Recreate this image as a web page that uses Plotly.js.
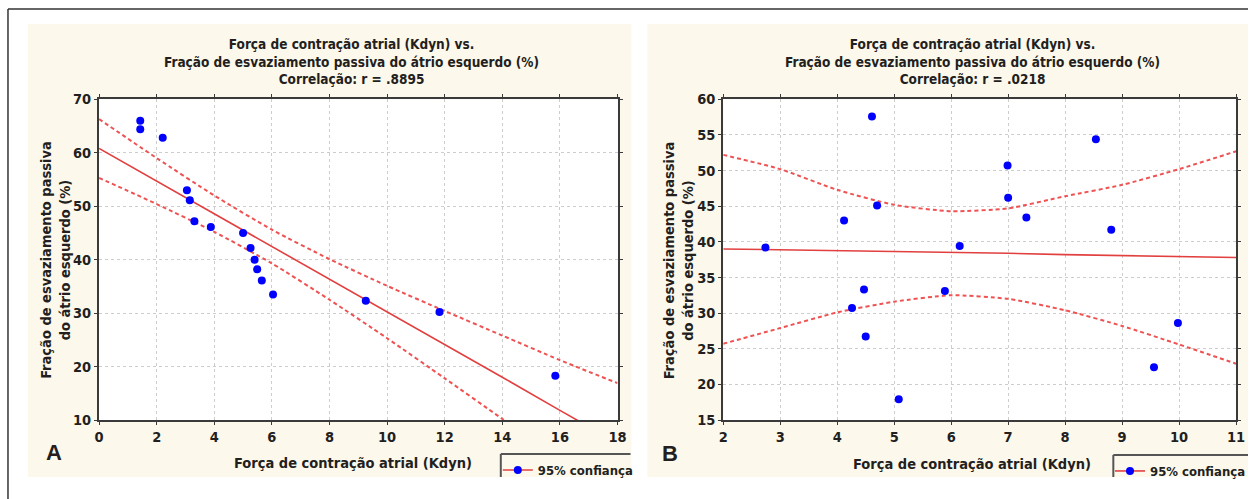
<!DOCTYPE html>
<html><head><meta charset="utf-8">
<script src="https://cdn.plot.ly/plotly-3.0.1.min.js"></script>
<style>html,body{margin:0;padding:0;background:#fff;overflow:hidden;width:1251px;height:499px}#chart{width:1251px;height:499px}</style>
</head><body><div id="chart"></div>
<script>
// ---------- Panel A data ----------
const forceA = [1.43,1.43,2.21,3.05,3.15,3.31,3.88,5.00,5.26,5.40,5.49,5.65,6.04,9.26,11.82,15.84];
const fracA  = [66.0,64.4,62.8,53.0,51.1,47.2,46.1,45.0,42.2,40.0,38.2,36.1,33.5,32.3,30.2,18.3];
const fitXA  = [0,2,4,6,8,10,12,14,16,18];
const fitA   = [60.8,54.7,48.6,42.4,36.3,30.2,24.1,18.0,11.8,5.7];
const upperA = [66.3,59.0,52.0,45.6,40.1,35.1,30.4,25.8,21.2,16.9];
const lowerA = [55.3,50.4,45.2,39.3,32.5,25.3,17.8,10.2,2.4,-5.3];
const xTicksA = [0,2,4,6,8,10,12,14,16,18];
const yTicksA = [10,20,30,40,50,60,70];
const titleA = "Força de contração atrial (Kdyn) vs.<br>Fração de esvaziamento passiva do átrio esquerdo (%)<br>Correlação: r = .8895";

// ---------- Panel B data ----------
const forceB = [2.74,4.12,4.26,4.47,4.50,4.61,4.70,5.08,5.89,6.15,6.99,7.00,7.32,8.54,8.81,9.56,9.98];
const fracB  = [39.2,43.0,30.7,33.3,26.7,57.6,45.1,17.9,33.1,39.4,50.7,46.2,43.4,54.4,41.7,22.4,28.6];
const fitXB  = [2,3,4,5,6,7,8,9,10,11];
const fitB   = [39.0,38.9,38.7,38.6,38.5,38.4,38.2,38.1,37.9,37.8];
const upperB = [52.2,50.2,47.3,45.2,44.3,44.7,46.4,48.0,50.2,52.7];
const lowerB = [25.7,27.9,30.1,31.6,32.5,32.0,30.4,28.2,25.6,22.9];
const xTicksB = [2,3,4,5,6,7,8,9,10,11];
const yTicksB = [15,20,25,30,35,40,45,50,55,60];
const titleB = "Força de contração atrial (Kdyn) vs.<br>Fração de esvaziamento passiva do átrio esquerdo (%)<br>Correlação: r = .0218";

const yTitle = "Fração de esvaziamento passiva<br>do átrio esquerdo (%)";
const xTitle = "Força de contração atrial (Kdyn)";
const legendName = "95% confiança";

// ---------- styling ----------
const W = 1251, H = 499;
const FONT = "'Liberation Sans Narrow','DejaVu Sans Condensed','Arial Narrow',sans-serif";
const TXT = '#231f20';
const RED = '#e23f3f', RED2 = '#ef5252', BLUE = '#0000ff';
const CREAM = '#fdf8ec';
const px = v => v / W;
const py = v => 1 - v / H;

function axisX(domain, range, ticks, anchor) {
  return {domain, range, tickvals: ticks, anchor, showgrid: true, gridcolor: '#cdcdcd', griddash: 'dot', gridwidth: 1,
    showline: true, linecolor: '#3a3a3a', linewidth: 2, mirror: 'allticks', ticks: 'outside', ticklen: 3, tickcolor: '#3a3a3a',
    zeroline: false, fixedrange: true, tickfont: {family: FONT, size: 14.5, weight: 'bold', color: TXT}};
}
function axisY(domain, range, ticks, anchor) {
  return axisX(domain, range, ticks, anchor);
}

const dashLine = {color: RED2, width: 2, dash: '4px,3px', shape: 'spline', smoothing: 0.6};
const solidLine = {color: RED, width: 1.6};

const traces = [
  // Panel A
  {x: fitXA, y: upperA, mode: 'lines', line: dashLine, xaxis: 'x', yaxis: 'y', showlegend: false, hoverinfo: 'skip'},
  {x: fitXA, y: lowerA, mode: 'lines', line: dashLine, xaxis: 'x', yaxis: 'y', showlegend: false, hoverinfo: 'skip'},
  {x: fitXA, y: fitA, mode: 'lines', line: solidLine, xaxis: 'x', yaxis: 'y', showlegend: false, hoverinfo: 'skip'},
  {x: forceA, y: fracA, mode: 'markers', marker: {color: BLUE, size: 8}, xaxis: 'x', yaxis: 'y', showlegend: false, cliponaxis: false},
  {x: [null], y: [null], mode: 'lines+markers', name: legendName, line: {color: RED, width: 1.6}, marker: {color: BLUE, size: 8},
   xaxis: 'x', yaxis: 'y', legend: 'legend', showlegend: true},
  // Panel B
  {x: fitXB, y: upperB, mode: 'lines', line: dashLine, xaxis: 'x2', yaxis: 'y2', showlegend: false, hoverinfo: 'skip'},
  {x: fitXB, y: lowerB, mode: 'lines', line: dashLine, xaxis: 'x2', yaxis: 'y2', showlegend: false, hoverinfo: 'skip'},
  {x: fitXB, y: fitB, mode: 'lines', line: solidLine, xaxis: 'x2', yaxis: 'y2', showlegend: false, hoverinfo: 'skip'},
  {x: forceB, y: fracB, mode: 'markers', marker: {color: BLUE, size: 8}, xaxis: 'x2', yaxis: 'y2', showlegend: false, cliponaxis: false},
  {x: [null], y: [null], mode: 'lines+markers', name: legendName, line: {color: RED, width: 1.6}, marker: {color: BLUE, size: 8},
   xaxis: 'x2', yaxis: 'y2', legend: 'legend2', showlegend: true}
];

const plotTop = 99.3, plotBot = 420;
const A = {l: 99.3, r: 619}, B = {l: 725, r: 1239};

const fontTitle = {family: FONT, size: 13.5, weight: 'bold', color: TXT};
const fontAxis = {family: FONT, size: 14.5, weight: 'bold', color: TXT};
const fontLeg = {family: FONT, size: 13, weight: 'bold', color: TXT};

function ann(text, x, y, font, extra) {
  return Object.assign({text, x: px(x), y: py(y), xref: 'paper', yref: 'paper', xanchor: 'center', yanchor: 'middle',
    showarrow: false, font}, extra || {});
}

const layout = {
  width: W, height: H, margin: {l: 0, r: 0, t: 0, b: 0},
  paper_bgcolor: '#ffffff', plot_bgcolor: '#ffffff',
  showlegend: true,
  xaxis: axisX([px(A.l), px(A.r)], [0, 18], xTicksA, 'y'),
  yaxis: axisY([py(plotBot), py(plotTop)], [10, 70], yTicksA, 'x'),
  xaxis2: axisX([px(B.l), px(B.r)], [2, 11], xTicksB, 'y2'),
  yaxis2: axisY([py(plotBot), py(plotTop)], [15, 60], yTicksB, 'x2'),
  legend: {x: px(499), y: py(455), xanchor: 'left', yanchor: 'top', bgcolor: 'rgba(0,0,0,0)', borderwidth: 0, font: fontLeg},
  legend2: {x: px(1113), y: py(456), xanchor: 'left', yanchor: 'top', bgcolor: 'rgba(0,0,0,0)', borderwidth: 0, font: fontLeg},
  shapes: [
    {type: 'rect', xref: 'paper', yref: 'paper', x0: px(28), x1: px(633), y0: py(477), y1: py(24), fillcolor: CREAM, line: {width: 0}, layer: 'below'},
    {type: 'rect', xref: 'paper', yref: 'paper', x0: px(649), x1: px(1251), y0: py(477), y1: py(24), fillcolor: CREAM, line: {width: 0}, layer: 'below'},
    {type: 'rect', xref: 'paper', yref: 'paper', x0: px(A.l), x1: px(A.r), y0: py(plotBot), y1: py(plotTop), fillcolor: '#ffffff', line: {width: 0}, layer: 'below'},
    {type: 'rect', xref: 'paper', yref: 'paper', x0: px(B.l), x1: px(B.r), y0: py(plotBot), y1: py(plotTop), fillcolor: '#ffffff', line: {width: 0}, layer: 'below'},
    {type: 'line', xref: 'paper', yref: 'paper', x0: px(8), x1: px(1251), y0: py(9), y1: py(9), line: {color: '#333', width: 1.5}},
    {type: 'line', xref: 'paper', yref: 'paper', x0: px(8), x1: px(8), y0: py(9), y1: py(499), line: {color: '#333', width: 1.5}},
    {type: 'line', xref: 'paper', yref: 'paper', x0: px(502), x1: px(632), y0: py(454), y1: py(454), line: {color: '#555', width: 2}},
    {type: 'line', xref: 'paper', yref: 'paper', x0: px(502), x1: px(502), y0: py(454), y1: py(477), line: {color: '#555', width: 2}},
    {type: 'line', xref: 'paper', yref: 'paper', x0: px(1116), x1: px(1251), y0: py(455), y1: py(455), line: {color: '#555', width: 2}},
    {type: 'line', xref: 'paper', yref: 'paper', x0: px(1116), x1: px(1116), y0: py(455), y1: py(477), line: {color: '#555', width: 2}}
  ],
  annotations: [
    ann(titleA, 352, 61, fontTitle),
    ann(titleB, 975, 61, fontTitle),
    ann(yTitle, 55, 260, fontAxis, {textangle: -90}),
    ann(yTitle, 680, 260, fontAxis, {textangle: -90}),
    ann(xTitle, 354, 463, fontAxis),
    ann(xTitle, 974, 464, fontAxis),
    ann('A', 54, 452, {family: "'Liberation Sans','Arial',sans-serif", size: 22, weight: 'bold', color: TXT}),
    ann('B', 672, 453, {family: "'Liberation Sans','Arial',sans-serif", size: 22, weight: 'bold', color: TXT})
  ]
};

Plotly.newPlot('chart', traces, layout, {staticPlot: true, displayModeBar: false});
</script>
</body></html>
